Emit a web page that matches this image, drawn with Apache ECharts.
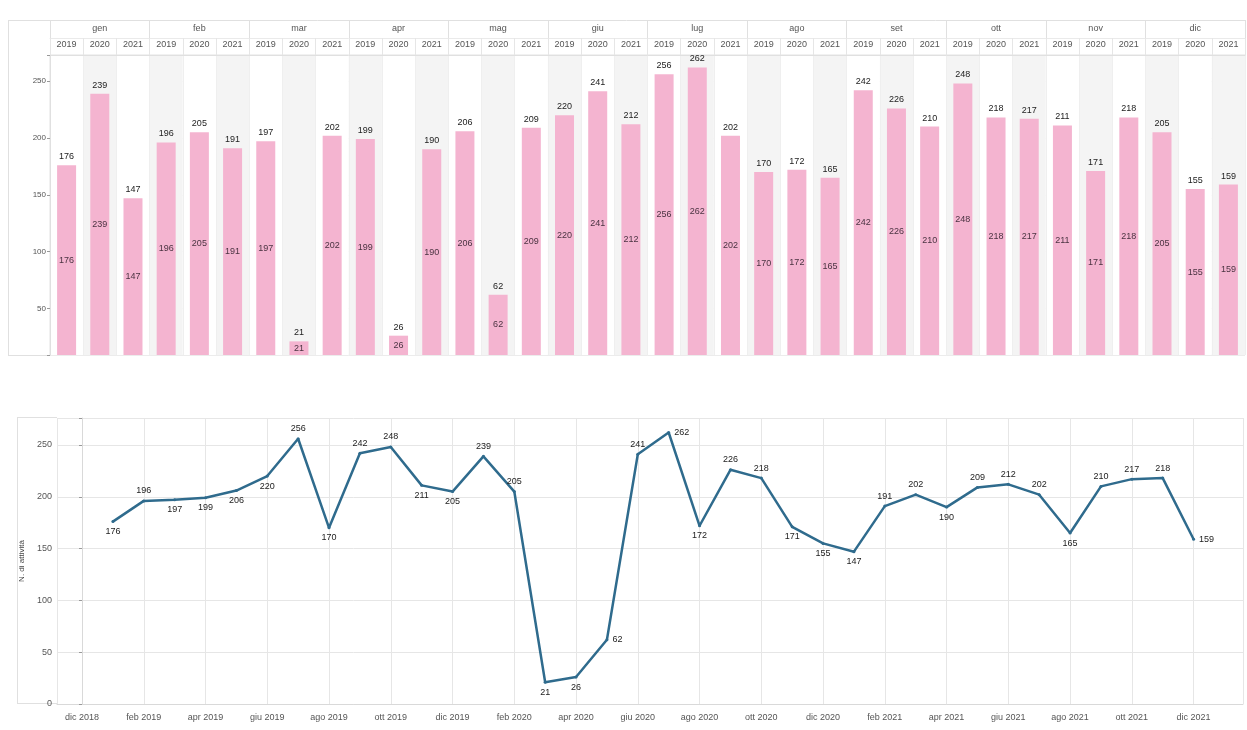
<!DOCTYPE html>
<html>
<head>
<meta charset="utf-8">
<script src="https://cdn.jsdelivr.net/npm/echarts@6/dist/echarts.min.js"></script>
<style>
  html, body { margin: 0; padding: 0; background: #fff; }
  #chart { width: 1247px; height: 730px; }
</style>
</head>
<body>
<div id="chart"></div>
<script>
const months = ["gen", "feb", "mar", "apr", "mag", "giu", "lug", "ago", "set", "ott", "nov", "dic"];
const years = ["2019", "2020", "2021"];
const v2019 = [176, 196, 197, 199, 206, 220, 256, 170, 242, 248, 211, 205];
const v2020 = [239, 205, 21, 26, 62, 241, 262, 172, 226, 218, 171, 155];
const v2021 = [147, 191, 202, 190, 209, 212, 202, 165, 210, 217, 218, 159];

// where the line labels sit, gen 2019 .. dic 2021
const lineLabelSide = [
  "bottom", "top", "bottom", "bottom", "bottom", "bottom", "top", "bottom", "top", "top", "bottom", "bottom",
  "top", "top", "bottom", "bottom", "right", "top", "right", "bottom", "top", "top", "bottom", "bottom",
  "bottom", "top", "top", "bottom", "top", "top", "top", "bottom", "top", "top", "top", "right"
];

let chartDom = document.getElementById("chart");
let myChart = echarts.init(chartDom);

const byYear = [v2019, v2020, v2021];

// top chart: month then year
const barCats = [];
const barVals = [];
months.forEach(function (m, i) {
  years.forEach(function (y, j) {
    barCats.push(y);
    barVals.push(byYear[j][i]);
  });
});

// bottom chart: x = months since dic 2018
const lineVals = [];
byYear.forEach(function (arr, j) {
  arr.forEach(function (v, i) {
    const k = j * 12 + i;
    lineVals.push({
      value: [k + 1, v],
      label: { position: lineLabelSide[k] }
    });
  });
});

function monthLabel(k) {
  const idx = 11 + k;
  return months[idx % 12] + " " + (2018 + Math.floor(idx / 12));
}

const font = "Liberation Sans, Arial, sans-serif";
const gridColor = "#e6e6e6";
const textColor = "#555";

function tens(v) {
  return v % 50 === 0 ? String(v) : "";
}

function hline(x1, x2, y) {
  return { type: "line", shape: { x1: x1, y1: y, x2: x2, y2: y }, style: { stroke: "#e0e0e0", lineWidth: 1 }, silent: true };
}
function vline(x, y1, y2) {
  return { type: "line", shape: { x1: x, y1: y1, x2: x, y2: y2 }, style: { stroke: "#e0e0e0", lineWidth: 1 }, silent: true };
}

const option = {
  animation: false,
  textStyle: { fontFamily: font },
  graphic: [
    hline(8, 1245, 20.5),
    vline(8.5, 20, 355),
    hline(8, 50, 355.5),
    hline(17, 57, 417.5),
    hline(17, 57, 703.5),
    vline(17.5, 417, 704)
  ],
  grid: [
    { left: 50, right: 2, top: 55, height: 300, show: true, borderColor: "#e3e3e3", borderWidth: 1 },
    { left: 57, right: 4, top: 418, bottom: 26 }
  ],
  xAxis: [
    {
      gridIndex: 0,
      type: "category",
      position: "top",
      data: barCats,
      axisLine: { show: true, lineStyle: { color: "#e0e0e0" } },
      axisTick: { show: true, interval: 0, length: 17, lineStyle: { color: "#e6e6e6" } },
      axisLabel: { interval: 0, fontSize: 9, color: textColor, margin: 6 },
      splitLine: { show: true, interval: 0, lineStyle: { color: "#efefef" } },
      splitArea: { show: true, interval: 0, areaStyle: { color: ["#ffffff", "#f4f4f4"] } }
    },
    {
      gridIndex: 0,
      type: "category",
      position: "top",
      offset: 17,
      data: months,
      axisLine: { show: true, lineStyle: { color: "#eaeaea" } },
      axisTick: { show: true, interval: 0, length: 18, lineStyle: { color: "#e0e0e0" } },
      axisLabel: { interval: 0, fontSize: 9, color: textColor, margin: 5 }
    },
    {
      gridIndex: 1,
      type: "value",
      min: -0.81,
      max: 37.6,
      splitNumber: 19,
      axisLine: { show: true, lineStyle: { color: "#d9d9d9" } },
      axisTick: { show: false },
      axisLabel: {
        fontSize: 9,
        color: textColor,
        margin: 9,
        formatter: function (v) {
          return Number.isInteger(v) && v >= 0 && v % 2 === 0 ? monthLabel(v) : "";
        }
      },
      splitLine: { show: true, lineStyle: { color: gridColor } }
    }
  ],
  yAxis: [
    {
      gridIndex: 0,
      type: "value",
      min: 9,
      max: 273,
      axisLine: { show: true, lineStyle: { color: "#e0e0e0" } },
      axisTick: { show: true, length: 3, lineStyle: { color: "#999" } },
      axisLabel: { fontSize: 8, color: textColor, margin: 4, formatter: tens },
      splitLine: { show: true, lineStyle: { color: "#ececec" } }
    },
    {
      gridIndex: 1,
      type: "value",
      min: 0,
      max: 276,
      interval: 50,
      name: "N. di attività",
      nameLocation: "middle",
      nameRotate: 90,
      nameGap: 30,
      nameTextStyle: { fontSize: 8, color: "#444" },
      axisLine: { show: true, lineStyle: { color: "#d9d9d9" } },
      axisTick: { show: true, length: 3, lineStyle: { color: "#999" } },
      axisLabel: { fontSize: 9, color: textColor, margin: 5, formatter: tens },
      splitLine: { show: true, lineStyle: { color: gridColor } }
    }
  ],
  series: [
    {
      type: "bar",
      xAxisIndex: 0,
      yAxisIndex: 0,
      data: barVals,
      barWidth: 19,
      itemStyle: { color: "#f4b4d0" },
      label: { show: true, position: "top", distance: 4, fontSize: 9, color: "#222" },
      z: 3
    },
    {
      type: "bar",
      xAxisIndex: 0,
      yAxisIndex: 0,
      data: barVals,
      barWidth: 19,
      barGap: "-100%",
      itemStyle: { color: "rgba(0,0,0,0)" },
      label: { show: true, position: "inside", fontSize: 9, color: "#4a3341" },
      z: 4
    },
    {
      type: "line",
      xAxisIndex: 2,
      yAxisIndex: 1,
      data: lineVals,
      symbol: "circle",
      symbolSize: 3,
      lineStyle: { color: "#2f6b8d", width: 2.5 },
      itemStyle: { color: "#2f6b8d" },
      label: { show: true, fontSize: 9, color: "#222", distance: 4 },
      z: 5
    }
  ]
};

option && myChart.setOption(option);
</script>
</body>
</html>
